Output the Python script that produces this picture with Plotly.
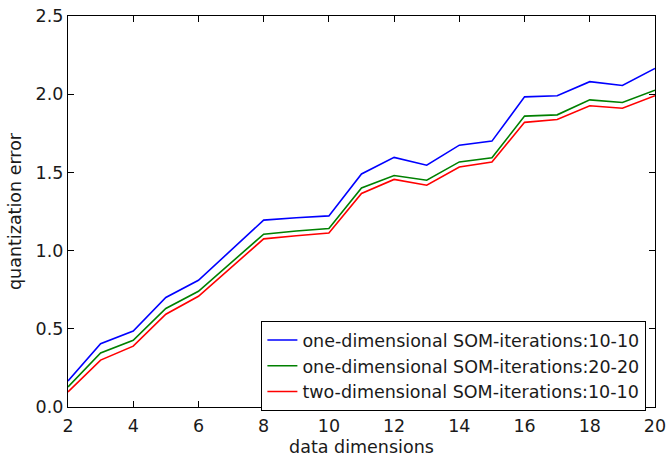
import plotly.graph_objects as go

dims = list(range(2, 21))
one_10 = [0.166, 0.405, 0.486, 0.70, 0.81, 1.00, 1.195, 1.21, 1.222, 1.49, 1.596, 1.546, 1.674, 1.70, 1.983, 1.99, 2.08, 2.056, 2.165]
one_20 = [0.128, 0.345, 0.427, 0.63, 0.74, 0.92, 1.105, 1.125, 1.141, 1.40, 1.48, 1.45, 1.567, 1.593, 1.86, 1.868, 1.964, 1.947, 2.026]
two_10 = [0.096, 0.30, 0.389, 0.593, 0.708, 0.89, 1.075, 1.095, 1.113, 1.365, 1.455, 1.418, 1.535, 1.567, 1.82, 1.838, 1.926, 1.91, 1.99]
names = ["one-dimensional SOM-iterations:10-10",
         "one-dimensional SOM-iterations:20-20",
         "two-dimensional SOM-iterations:10-10"]
colors = ["#0000ff", "#008000", "#ff0000"]

fig = go.Figure()
for ys, n, c in zip([one_10, one_20, two_10], names, colors):
    fig.add_trace(go.Scatter(x=dims, y=ys, mode="lines", name=n,
                             line=dict(color=c, width=1.6)))

font = dict(family="DejaVu Sans", size=17.5, color="#1a1a1a")
axis = dict(showgrid=False, zeroline=False, showline=True, linecolor="black",
            linewidth=1.2, mirror="ticks", ticks="inside", ticklen=6,
            tickcolor="black", tickfont=font, automargin=False)
fig.update_layout(
    width=667, height=459,
    margin=dict(l=68, r=12, t=16, b=52),
    plot_bgcolor="white", paper_bgcolor="white",
    font=font,
    xaxis=dict(axis, range=[2, 20], tickvals=list(range(2, 21, 2)),
               ticklabelstandoff=3,
               title=dict(text="data dimensions", font=font, standoff=5)),
    yaxis=dict(axis, range=[0, 2.5], tickvals=[0, 0.5, 1.0, 1.5, 2.0, 2.5],
               ticktext=["0.0", "0.5", "1.0", "1.5", "2.0", "2.5"],
               title=dict(text="quantization error", font=font, standoff=9)),
    legend=dict(x=0.985, y=-0.01, xanchor="right", yanchor="bottom",
                bordercolor="black", borderwidth=1.2, bgcolor="white",
                font=dict(family="DejaVu Sans", size=17.5, color="#1a1a1a"),
                tracegroupgap=0, itemwidth=30),
    showlegend=True,
)
fig.write_html("out.html")
